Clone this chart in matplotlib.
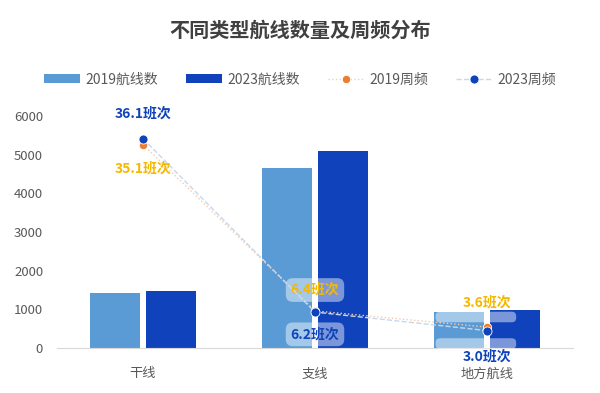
import matplotlib.pyplot as plt
import numpy as np

plt.rcParams['font.family'] = ['Noto Sans CJK SC', 'DejaVu Sans']

# data
categories = ['干线', '支线', '地方航线']
routes_2019 = [1420, 4650, 930]
routes_2023 = [1470, 5090, 980]
freq_2019 = [35.1, 6.4, 3.6]
freq_2023 = [36.1, 6.2, 3.0]

c2019 = '#5b9bd5'
c2023 = '#1043bb'
c_orange = '#ed7d31'
c_yellow = '#f5b800'

fig = plt.figure(figsize=(6, 3.93), dpi=100)
ax = fig.add_axes([0.095, 0.1145, 0.86, 0.590])

x = np.arange(len(categories))
w = 0.295
ax.bar(x - w / 2 - 0.016, routes_2019, width=w, color=c2019, label='2019航线数')
ax.bar(x + w / 2 + 0.016, routes_2023, width=w, color=c2023, label='2023航线数')

ax.set_ylim(0, 6000)
ax.set_xlim(-0.5, 2.5)
ax.set_yticks(range(0, 6001, 1000))
ax.set_xticks(x)
ax.set_xticklabels(categories)
ax.tick_params(axis='both', length=0, labelsize=9.5, colors='#595959')
ax.tick_params(axis='x', pad=14)
ax.tick_params(axis='y', pad=10)
for s in ['top', 'right', 'left']:
    ax.spines[s].set_visible(False)
ax.spines['bottom'].set_color('#d9d9d9')

# frequency on hidden secondary axis
ax2 = ax.twinx()
ax2.set_ylim(0, 40)
ax2.axis('off')
ax2.plot(x, freq_2019, color='#f8cbad', linestyle=':', linewidth=1,
         marker='o', markersize=6, markerfacecolor=c_orange, markeredgecolor='white',
         markeredgewidth=0.6, label='2019周频', zorder=3)
ax2.plot(x, freq_2023, color='#c5d9ee', linestyle='--', linewidth=1,
         marker='o', markersize=6.5, markerfacecolor=c2023, markeredgecolor='white',
         markeredgewidth=0.6, label='2023周频', zorder=4)

box = dict(boxstyle='round,pad=0.35,rounding_size=0.5', facecolor='white',
           edgecolor='none', alpha=0.45)
thin_box = dict(boxstyle='round,pad=0.5,rounding_size=0.8', facecolor='white',
                edgecolor='none', alpha=0.45)
lbl = dict(textcoords='offset points', ha='center', fontsize=10, fontweight='bold')
# 干线 labels
ax2.annotate(f'{freq_2023[0]}班次', (x[0], freq_2023[0]), xytext=(0, 13),
             va='bottom', color=c2023, **lbl)
ax2.annotate(f'{freq_2019[0]}班次', (x[0], freq_2019[0]), xytext=(0, -12),
             va='top', color=c_yellow, **lbl)
# 支线 labels
ax2.annotate(f'{freq_2019[1]}班次', (x[1], freq_2019[1]), xytext=(0, 10),
             va='bottom', color=c_yellow, bbox=box, **lbl)
ax2.annotate(f'{freq_2023[1]}班次', (x[1], freq_2023[1]), xytext=(0, -11),
             va='top', color=c2023, bbox=box, **lbl)
# 地方航线 labels (boxes sit slightly off the text)
ax2.annotate(' ' * 60, (x[2], freq_2019[2]), xytext=(-8, 5.5),
             textcoords='offset points', ha='center', va='bottom',
             fontsize=4, bbox=thin_box)
ax2.annotate(' ' * 60, (x[2], freq_2023[2]), xytext=(-8, -7.5),
             textcoords='offset points', ha='center', va='top',
             fontsize=4, bbox=thin_box)
ax2.annotate(f'{freq_2019[2]}班次', (x[2], freq_2019[2]), xytext=(0, 13),
             va='bottom', color=c_yellow, **lbl)
ax2.annotate(f'{freq_2023[2]}班次', (x[2], freq_2023[2]), xytext=(0, -14),
             va='top', color=c2023, **lbl)

h1, l1 = ax.get_legend_handles_labels()
h2, l2 = ax2.get_legend_handles_labels()
fig.legend(h1 + h2, l1 + l2, loc='center', bbox_to_anchor=(0.5, 0.797), ncol=4,
           frameon=False, fontsize=10, labelcolor='#595959',
           handlelength=2.6, handleheight=0.6, columnspacing=2.0, handletextpad=0.4)

fig.text(0.5, 0.924, '不同类型航线数量及周频分布', ha='center', va='center',
         fontsize=14.5, fontweight='bold', color='#404040')

plt.savefig('out.png', dpi=100)
